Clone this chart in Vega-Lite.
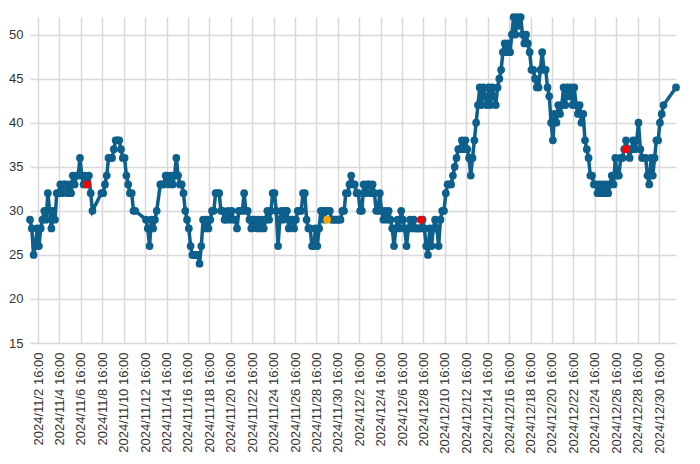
{
  "$schema": "https://vega.github.io/schema/vega-lite/v6.json",
  "width": 646,
  "height": 326,
  "autosize": {"type": "none"},
  "padding": {"left": 30, "top": 17, "right": 24, "bottom": 121},
  "background": "white",
  "config": {
    "view": {"stroke": null},
    "axis": {
      "labelFont": "Liberation Sans",
      "labelFontSize": 13,
      "labelColor": "#333333",
      "domain": false,
      "ticks": false,
      "grid": true,
      "gridColor": "#d9d9d9",
      "gridWidth": 1.5,
      "title": null
    }
  },
  "datasets": {
    "series": [
      {"t":"2024-11-01T22:00Z","v":29},
      {"t":"2024-11-02T02:00Z","v":28},{"t":"2024-11-02T06:00Z","v":25},{"t":"2024-11-02T10:00Z","v":26},{"t":"2024-11-02T14:00Z","v":28},{"t":"2024-11-02T18:00Z","v":26},{"t":"2024-11-02T22:00Z","v":28},
      {"t":"2024-11-03T02:00Z","v":29},{"t":"2024-11-03T06:00Z","v":30},{"t":"2024-11-03T10:00Z","v":29},{"t":"2024-11-03T14:00Z","v":32},{"t":"2024-11-03T18:00Z","v":30},{"t":"2024-11-03T22:00Z","v":28},
      {"t":"2024-11-04T02:00Z","v":30},{"t":"2024-11-04T06:00Z","v":29},{"t":"2024-11-04T10:00Z","v":32},{"t":"2024-11-04T14:00Z","v":32},{"t":"2024-11-04T18:00Z","v":33},{"t":"2024-11-04T22:00Z","v":32},
      {"t":"2024-11-05T02:00Z","v":33},{"t":"2024-11-05T06:00Z","v":33},{"t":"2024-11-05T10:00Z","v":32},{"t":"2024-11-05T14:00Z","v":33},{"t":"2024-11-05T18:00Z","v":32},{"t":"2024-11-05T22:00Z","v":34},
      {"t":"2024-11-06T02:00Z","v":33},{"t":"2024-11-06T06:00Z","v":34},{"t":"2024-11-06T10:00Z","v":34},{"t":"2024-11-06T14:00Z","v":36},{"t":"2024-11-06T18:00Z","v":34},{"t":"2024-11-06T22:00Z","v":33},
      {"t":"2024-11-07T02:00Z","v":34},{"t":"2024-11-07T06:00Z","v":33},{"t":"2024-11-07T10:00Z","v":34},{"t":"2024-11-07T14:00Z","v":32},{"t":"2024-11-07T18:00Z","v":30},
      {"t":"2024-11-08T14:00Z","v":32},{"t":"2024-11-08T18:00Z","v":32},{"t":"2024-11-08T22:00Z","v":33},
      {"t":"2024-11-09T02:00Z","v":34},{"t":"2024-11-09T06:00Z","v":36},{"t":"2024-11-09T10:00Z","v":36},{"t":"2024-11-09T14:00Z","v":36},{"t":"2024-11-09T18:00Z","v":37},{"t":"2024-11-09T22:00Z","v":38},
      {"t":"2024-11-10T02:00Z","v":38},{"t":"2024-11-10T06:00Z","v":38},{"t":"2024-11-10T10:00Z","v":37},{"t":"2024-11-10T14:00Z","v":36},{"t":"2024-11-10T18:00Z","v":36},{"t":"2024-11-10T22:00Z","v":34},
      {"t":"2024-11-11T02:00Z","v":33},{"t":"2024-11-11T06:00Z","v":32},{"t":"2024-11-11T10:00Z","v":32},{"t":"2024-11-11T14:00Z","v":30},{"t":"2024-11-11T18:00Z","v":30},
      {"t":"2024-11-12T18:00Z","v":29},{"t":"2024-11-12T22:00Z","v":28},
      {"t":"2024-11-13T02:00Z","v":26},{"t":"2024-11-13T06:00Z","v":29},{"t":"2024-11-13T10:00Z","v":28},{"t":"2024-11-13T14:00Z","v":29},{"t":"2024-11-13T18:00Z","v":30},
      {"t":"2024-11-14T02:00Z","v":33},{"t":"2024-11-14T06:00Z","v":33},{"t":"2024-11-14T10:00Z","v":33},{"t":"2024-11-14T14:00Z","v":34},{"t":"2024-11-14T18:00Z","v":34},{"t":"2024-11-14T22:00Z","v":33},
      {"t":"2024-11-15T02:00Z","v":34},{"t":"2024-11-15T06:00Z","v":33},{"t":"2024-11-15T10:00Z","v":34},{"t":"2024-11-15T14:00Z","v":36},{"t":"2024-11-15T18:00Z","v":34},{"t":"2024-11-15T22:00Z","v":33},
      {"t":"2024-11-16T02:00Z","v":33},{"t":"2024-11-16T06:00Z","v":32},{"t":"2024-11-16T10:00Z","v":30},{"t":"2024-11-16T14:00Z","v":29},{"t":"2024-11-16T18:00Z","v":28},{"t":"2024-11-16T22:00Z","v":26},
      {"t":"2024-11-17T02:00Z","v":25},{"t":"2024-11-17T06:00Z","v":25},{"t":"2024-11-17T10:00Z","v":25},{"t":"2024-11-17T14:00Z","v":25},{"t":"2024-11-17T18:00Z","v":24},{"t":"2024-11-17T22:00Z","v":26},
      {"t":"2024-11-18T02:00Z","v":29},{"t":"2024-11-18T06:00Z","v":28},{"t":"2024-11-18T10:00Z","v":29},{"t":"2024-11-18T14:00Z","v":28},{"t":"2024-11-18T18:00Z","v":29},{"t":"2024-11-18T22:00Z","v":30},
      {"t":"2024-11-19T02:00Z","v":30},{"t":"2024-11-19T06:00Z","v":32},{"t":"2024-11-19T10:00Z","v":32},{"t":"2024-11-19T14:00Z","v":32},{"t":"2024-11-19T18:00Z","v":30},{"t":"2024-11-19T22:00Z","v":30},
      {"t":"2024-11-20T02:00Z","v":29},{"t":"2024-11-20T06:00Z","v":29},{"t":"2024-11-20T10:00Z","v":30},{"t":"2024-11-20T14:00Z","v":29},{"t":"2024-11-20T18:00Z","v":30},{"t":"2024-11-20T22:00Z","v":29},
      {"t":"2024-11-21T02:00Z","v":29},{"t":"2024-11-21T06:00Z","v":28},{"t":"2024-11-21T10:00Z","v":30},{"t":"2024-11-21T14:00Z","v":30},{"t":"2024-11-21T18:00Z","v":30},{"t":"2024-11-21T22:00Z","v":32},
      {"t":"2024-11-22T02:00Z","v":30},{"t":"2024-11-22T06:00Z","v":30},{"t":"2024-11-22T10:00Z","v":29},{"t":"2024-11-22T14:00Z","v":28},{"t":"2024-11-22T18:00Z","v":29},{"t":"2024-11-22T22:00Z","v":29},
      {"t":"2024-11-23T02:00Z","v":28},{"t":"2024-11-23T06:00Z","v":29},{"t":"2024-11-23T10:00Z","v":28},{"t":"2024-11-23T14:00Z","v":29},{"t":"2024-11-23T18:00Z","v":28},{"t":"2024-11-23T22:00Z","v":29},
      {"t":"2024-11-24T02:00Z","v":30},{"t":"2024-11-24T06:00Z","v":29},{"t":"2024-11-24T10:00Z","v":30},{"t":"2024-11-24T14:00Z","v":32},{"t":"2024-11-24T18:00Z","v":32},{"t":"2024-11-24T22:00Z","v":30},
      {"t":"2024-11-25T02:00Z","v":26},{"t":"2024-11-25T06:00Z","v":29},{"t":"2024-11-25T10:00Z","v":30},{"t":"2024-11-25T14:00Z","v":29},{"t":"2024-11-25T18:00Z","v":30},{"t":"2024-11-25T22:00Z","v":30},
      {"t":"2024-11-26T02:00Z","v":28},{"t":"2024-11-26T06:00Z","v":29},{"t":"2024-11-26T10:00Z","v":29},{"t":"2024-11-26T14:00Z","v":28},{"t":"2024-11-26T18:00Z","v":29},{"t":"2024-11-26T22:00Z","v":30},
      {"t":"2024-11-27T02:00Z","v":30},{"t":"2024-11-27T06:00Z","v":30},{"t":"2024-11-27T10:00Z","v":32},{"t":"2024-11-27T14:00Z","v":32},{"t":"2024-11-27T18:00Z","v":29},{"t":"2024-11-27T22:00Z","v":28},
      {"t":"2024-11-28T02:00Z","v":28},{"t":"2024-11-28T06:00Z","v":26},{"t":"2024-11-28T10:00Z","v":26},{"t":"2024-11-28T14:00Z","v":28},{"t":"2024-11-28T18:00Z","v":26},{"t":"2024-11-28T22:00Z","v":28},
      {"t":"2024-11-29T02:00Z","v":30},{"t":"2024-11-29T06:00Z","v":30},{"t":"2024-11-29T10:00Z","v":29},{"t":"2024-11-29T14:00Z","v":30},{"t":"2024-11-29T18:00Z","v":30},{"t":"2024-11-29T22:00Z","v":30},
      {"t":"2024-11-30T02:00Z","v":29},{"t":"2024-11-30T06:00Z","v":29},{"t":"2024-11-30T10:00Z","v":29},{"t":"2024-11-30T14:00Z","v":29},{"t":"2024-11-30T18:00Z","v":29},{"t":"2024-11-30T22:00Z","v":29},
      {"t":"2024-12-01T02:00Z","v":30},{"t":"2024-12-01T06:00Z","v":30},{"t":"2024-12-01T10:00Z","v":32},{"t":"2024-12-01T14:00Z","v":32},{"t":"2024-12-01T18:00Z","v":33},{"t":"2024-12-01T22:00Z","v":34},
      {"t":"2024-12-02T02:00Z","v":33},{"t":"2024-12-02T06:00Z","v":33},{"t":"2024-12-02T10:00Z","v":32},{"t":"2024-12-02T14:00Z","v":32},{"t":"2024-12-02T18:00Z","v":30},{"t":"2024-12-02T22:00Z","v":30},
      {"t":"2024-12-03T02:00Z","v":33},{"t":"2024-12-03T06:00Z","v":32},{"t":"2024-12-03T10:00Z","v":33},{"t":"2024-12-03T14:00Z","v":33},{"t":"2024-12-03T18:00Z","v":32},{"t":"2024-12-03T22:00Z","v":33},
      {"t":"2024-12-04T02:00Z","v":32},{"t":"2024-12-04T06:00Z","v":30},{"t":"2024-12-04T10:00Z","v":30},{"t":"2024-12-04T14:00Z","v":32},{"t":"2024-12-04T18:00Z","v":30},{"t":"2024-12-04T22:00Z","v":29},
      {"t":"2024-12-05T02:00Z","v":30},{"t":"2024-12-05T06:00Z","v":29},{"t":"2024-12-05T10:00Z","v":30},{"t":"2024-12-05T14:00Z","v":29},{"t":"2024-12-05T18:00Z","v":28},{"t":"2024-12-05T22:00Z","v":26},
      {"t":"2024-12-06T02:00Z","v":28},{"t":"2024-12-06T06:00Z","v":29},{"t":"2024-12-06T10:00Z","v":28},{"t":"2024-12-06T14:00Z","v":30},{"t":"2024-12-06T18:00Z","v":29},{"t":"2024-12-06T22:00Z","v":28},
      {"t":"2024-12-07T02:00Z","v":26},{"t":"2024-12-07T06:00Z","v":28},{"t":"2024-12-07T10:00Z","v":29},{"t":"2024-12-07T14:00Z","v":28},{"t":"2024-12-07T18:00Z","v":29},{"t":"2024-12-07T22:00Z","v":28},
      {"t":"2024-12-08T02:00Z","v":28},{"t":"2024-12-08T06:00Z","v":28},{"t":"2024-12-08T10:00Z","v":28},{"t":"2024-12-08T14:00Z","v":29},{"t":"2024-12-08T18:00Z","v":28},{"t":"2024-12-08T22:00Z","v":26},
      {"t":"2024-12-09T02:00Z","v":25},{"t":"2024-12-09T06:00Z","v":28},{"t":"2024-12-09T10:00Z","v":26},{"t":"2024-12-09T14:00Z","v":28},{"t":"2024-12-09T18:00Z","v":29},{"t":"2024-12-09T22:00Z","v":28},
      {"t":"2024-12-10T02:00Z","v":26},{"t":"2024-12-10T06:00Z","v":29},{"t":"2024-12-10T10:00Z","v":30},{"t":"2024-12-10T14:00Z","v":30},{"t":"2024-12-10T18:00Z","v":32},{"t":"2024-12-10T22:00Z","v":33},
      {"t":"2024-12-11T02:00Z","v":33},{"t":"2024-12-11T06:00Z","v":33},{"t":"2024-12-11T10:00Z","v":34},{"t":"2024-12-11T14:00Z","v":35},{"t":"2024-12-11T18:00Z","v":36},{"t":"2024-12-11T22:00Z","v":37},
      {"t":"2024-12-12T02:00Z","v":37},{"t":"2024-12-12T06:00Z","v":38},{"t":"2024-12-12T10:00Z","v":37},{"t":"2024-12-12T14:00Z","v":38},{"t":"2024-12-12T18:00Z","v":37},{"t":"2024-12-12T22:00Z","v":36},
      {"t":"2024-12-13T02:00Z","v":34},{"t":"2024-12-13T06:00Z","v":36},{"t":"2024-12-13T10:00Z","v":38},{"t":"2024-12-13T14:00Z","v":40},{"t":"2024-12-13T18:00Z","v":42},{"t":"2024-12-13T22:00Z","v":44},
      {"t":"2024-12-14T02:00Z","v":42},{"t":"2024-12-14T06:00Z","v":44},{"t":"2024-12-14T10:00Z","v":43},{"t":"2024-12-14T14:00Z","v":42},{"t":"2024-12-14T18:00Z","v":44},{"t":"2024-12-14T22:00Z","v":42},
      {"t":"2024-12-15T02:00Z","v":44},{"t":"2024-12-15T06:00Z","v":43},{"t":"2024-12-15T10:00Z","v":42},{"t":"2024-12-15T14:00Z","v":44},{"t":"2024-12-15T18:00Z","v":45},{"t":"2024-12-15T22:00Z","v":46},
      {"t":"2024-12-16T02:00Z","v":48},{"t":"2024-12-16T06:00Z","v":49},{"t":"2024-12-16T10:00Z","v":48},{"t":"2024-12-16T14:00Z","v":49},{"t":"2024-12-16T18:00Z","v":48},{"t":"2024-12-16T22:00Z","v":50},
      {"t":"2024-12-17T02:00Z","v":52},{"t":"2024-12-17T06:00Z","v":50},{"t":"2024-12-17T10:00Z","v":52},{"t":"2024-12-17T14:00Z","v":51},{"t":"2024-12-17T18:00Z","v":52},{"t":"2024-12-17T22:00Z","v":50},
      {"t":"2024-12-18T02:00Z","v":49},{"t":"2024-12-18T06:00Z","v":50},{"t":"2024-12-18T10:00Z","v":49},{"t":"2024-12-18T14:00Z","v":48},{"t":"2024-12-18T18:00Z","v":46},{"t":"2024-12-18T22:00Z","v":46},
      {"t":"2024-12-19T02:00Z","v":45},{"t":"2024-12-19T06:00Z","v":44},{"t":"2024-12-19T10:00Z","v":44},{"t":"2024-12-19T14:00Z","v":46},{"t":"2024-12-19T18:00Z","v":48},{"t":"2024-12-19T22:00Z","v":46},
      {"t":"2024-12-20T02:00Z","v":46},{"t":"2024-12-20T06:00Z","v":44},{"t":"2024-12-20T10:00Z","v":43},{"t":"2024-12-20T14:00Z","v":40},{"t":"2024-12-20T18:00Z","v":38},{"t":"2024-12-20T22:00Z","v":41},
      {"t":"2024-12-21T02:00Z","v":40},{"t":"2024-12-21T06:00Z","v":42},{"t":"2024-12-21T10:00Z","v":41},{"t":"2024-12-21T14:00Z","v":42},{"t":"2024-12-21T18:00Z","v":44},{"t":"2024-12-21T22:00Z","v":42},
      {"t":"2024-12-22T02:00Z","v":44},{"t":"2024-12-22T06:00Z","v":43},{"t":"2024-12-22T10:00Z","v":44},{"t":"2024-12-22T14:00Z","v":42},{"t":"2024-12-22T18:00Z","v":44},{"t":"2024-12-22T22:00Z","v":42},
      {"t":"2024-12-23T02:00Z","v":41},{"t":"2024-12-23T06:00Z","v":42},{"t":"2024-12-23T10:00Z","v":40},{"t":"2024-12-23T14:00Z","v":41},{"t":"2024-12-23T18:00Z","v":38},{"t":"2024-12-23T22:00Z","v":37},
      {"t":"2024-12-24T02:00Z","v":36},{"t":"2024-12-24T06:00Z","v":34},{"t":"2024-12-24T10:00Z","v":34},{"t":"2024-12-24T14:00Z","v":33},{"t":"2024-12-24T18:00Z","v":33},{"t":"2024-12-24T22:00Z","v":32},
      {"t":"2024-12-25T02:00Z","v":33},{"t":"2024-12-25T06:00Z","v":32},{"t":"2024-12-25T10:00Z","v":33},{"t":"2024-12-25T14:00Z","v":32},{"t":"2024-12-25T18:00Z","v":33},{"t":"2024-12-25T22:00Z","v":32},
      {"t":"2024-12-26T02:00Z","v":33},{"t":"2024-12-26T06:00Z","v":34},{"t":"2024-12-26T10:00Z","v":33},{"t":"2024-12-26T14:00Z","v":36},{"t":"2024-12-26T18:00Z","v":34},{"t":"2024-12-26T22:00Z","v":34},
      {"t":"2024-12-27T02:00Z","v":36},{"t":"2024-12-27T06:00Z","v":36},{"t":"2024-12-27T10:00Z","v":37},{"t":"2024-12-27T14:00Z","v":38},{"t":"2024-12-27T18:00Z","v":37},{"t":"2024-12-27T22:00Z","v":36},
      {"t":"2024-12-28T02:00Z","v":37},{"t":"2024-12-28T06:00Z","v":38},{"t":"2024-12-28T10:00Z","v":37},{"t":"2024-12-28T14:00Z","v":38},{"t":"2024-12-28T18:00Z","v":40},{"t":"2024-12-28T22:00Z","v":37},
      {"t":"2024-12-29T02:00Z","v":36},{"t":"2024-12-29T06:00Z","v":36},{"t":"2024-12-29T10:00Z","v":36},{"t":"2024-12-29T14:00Z","v":34},{"t":"2024-12-29T18:00Z","v":33},{"t":"2024-12-29T22:00Z","v":36},
      {"t":"2024-12-30T02:00Z","v":34},{"t":"2024-12-30T06:00Z","v":36},{"t":"2024-12-30T10:00Z","v":38},{"t":"2024-12-30T14:00Z","v":38},{"t":"2024-12-30T18:00Z","v":40},{"t":"2024-12-30T22:00Z","v":41},
      {"t":"2024-12-31T02:00Z","v":42},
      {"t":"2025-01-01T06:00Z","v":44}
    ],
    "flags": [
      {"t":"2024-11-07T06:00Z","v":33,"level":"alarm"},
      {"t":"2024-11-29T16:00Z","v":29,"level":"warning"},
      {"t":"2024-12-08T10:00Z","v":29,"level":"alarm"},
      {"t":"2024-12-27T14:00Z","v":37,"level":"alarm"}
    ]
  },
  "encoding": {
    "x": {
      "field": "t",
      "type": "temporal",
      "scale": {
        "type": "utc",
        "nice": false,
        "domain": [
          {"year": 2024, "month": 11, "date": 1, "hours": 22, "utc": true},
          {"year": 2025, "month": 1, "date": 1, "hours": 6, "utc": true}
        ]
      },
      "axis": {
        "format": "%Y/%-m/%-d %H:%M",
        "labelAngle": -90,
        "labelPadding": 9,
        "labelOverlap": false,
        "values": [
          {"year":2024,"month":11,"date":2,"hours":16,"utc":true},
          {"year":2024,"month":11,"date":4,"hours":16,"utc":true},
          {"year":2024,"month":11,"date":6,"hours":16,"utc":true},
          {"year":2024,"month":11,"date":8,"hours":16,"utc":true},
          {"year":2024,"month":11,"date":10,"hours":16,"utc":true},
          {"year":2024,"month":11,"date":12,"hours":16,"utc":true},
          {"year":2024,"month":11,"date":14,"hours":16,"utc":true},
          {"year":2024,"month":11,"date":16,"hours":16,"utc":true},
          {"year":2024,"month":11,"date":18,"hours":16,"utc":true},
          {"year":2024,"month":11,"date":20,"hours":16,"utc":true},
          {"year":2024,"month":11,"date":22,"hours":16,"utc":true},
          {"year":2024,"month":11,"date":24,"hours":16,"utc":true},
          {"year":2024,"month":11,"date":26,"hours":16,"utc":true},
          {"year":2024,"month":11,"date":28,"hours":16,"utc":true},
          {"year":2024,"month":11,"date":30,"hours":16,"utc":true},
          {"year":2024,"month":12,"date":2,"hours":16,"utc":true},
          {"year":2024,"month":12,"date":4,"hours":16,"utc":true},
          {"year":2024,"month":12,"date":6,"hours":16,"utc":true},
          {"year":2024,"month":12,"date":8,"hours":16,"utc":true},
          {"year":2024,"month":12,"date":10,"hours":16,"utc":true},
          {"year":2024,"month":12,"date":12,"hours":16,"utc":true},
          {"year":2024,"month":12,"date":14,"hours":16,"utc":true},
          {"year":2024,"month":12,"date":16,"hours":16,"utc":true},
          {"year":2024,"month":12,"date":18,"hours":16,"utc":true},
          {"year":2024,"month":12,"date":20,"hours":16,"utc":true},
          {"year":2024,"month":12,"date":22,"hours":16,"utc":true},
          {"year":2024,"month":12,"date":24,"hours":16,"utc":true},
          {"year":2024,"month":12,"date":26,"hours":16,"utc":true},
          {"year":2024,"month":12,"date":28,"hours":16,"utc":true},
          {"year":2024,"month":12,"date":30,"hours":16,"utc":true}
        ]
      }
    },
    "y": {
      "field": "v",
      "type": "quantitative",
      "scale": {"domain": [15, 52], "nice": false, "zero": false},
      "axis": {"values": [15, 20, 25, 30, 35, 40, 45, 50], "labelPadding": 7}
    }
  },
  "layer": [
    {
      "data": {"name": "series"},
      "mark": {"type": "line", "color": "#0d5f8c", "strokeWidth": 3.5},
      "encoding": {}
    },
    {
      "data": {"name": "series"},
      "mark": {"type": "point", "filled": true, "color": "#0d5f8c", "opacity": 1, "size": 60},
      "encoding": {}
    },
    {
      "data": {"name": "flags"},
      "mark": {"type": "point", "filled": true, "opacity": 1, "size": 60},
      "encoding": {
        "color": {
          "field": "level",
          "type": "nominal",
          "scale": {"domain": ["alarm", "warning"], "range": ["#ff0000", "#ffa500"]},
          "legend": null
        }
      }
    }
  ]
}
